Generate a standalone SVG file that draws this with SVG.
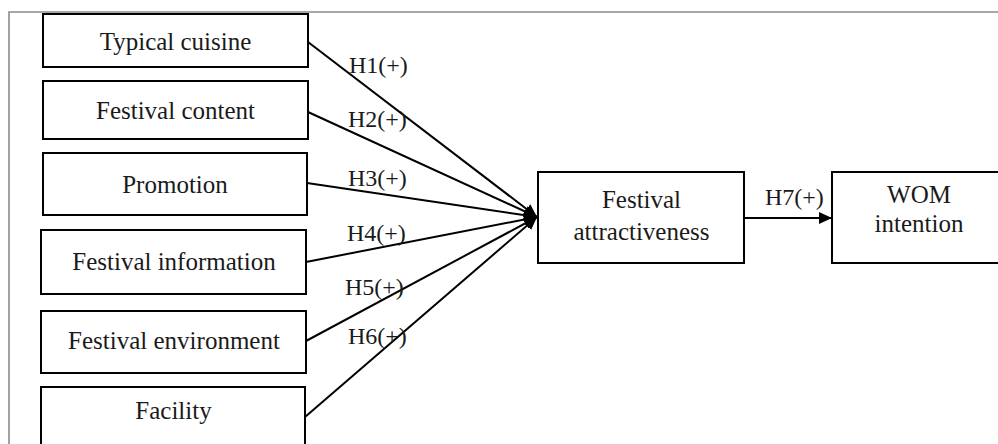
<svg xmlns="http://www.w3.org/2000/svg" width="998" height="444" viewBox="0 0 998 444">
<style>
.box{fill:#fff;stroke:#000;stroke-width:2}
.t{font-family:"Liberation Serif","Times New Roman",serif;font-size:25px;fill:#1a1a1a;text-anchor:middle}
.h{font-family:"Liberation Serif","Times New Roman",serif;font-size:24px;fill:#1a1a1a}
.c{stroke:#000;stroke-width:2;fill:none}
</style>
<defs>
<marker id="ah" markerUnits="userSpaceOnUse" markerWidth="14" markerHeight="12" refX="13" refY="6" orient="auto">
<path d="M0,0 L13,6 L0,12 Z" fill="#000"/>
</marker>
</defs>
<rect width="998" height="444" fill="#fff"/>
<path d="M9,444 V12 H998" fill="none" stroke="#8a8a8a" stroke-width="1.6"/>
<g id="n1"><rect class="box" x="43" y="14" width="265" height="53"/><text class="t" x="175.5" y="50">Typical cuisine</text></g>
<g id="n2"><rect class="box" x="43" y="81" width="265" height="58"/><text class="t" x="175.5" y="119">Festival content</text></g>
<g id="n3"><rect class="box" x="43" y="153" width="264" height="62"/><text class="t" x="175" y="193">Promotion</text></g>
<g id="n4"><rect class="box" x="41" y="230" width="265" height="64"/><text class="t" x="174" y="270">Festival information</text></g>
<g id="n5"><rect class="box" x="41" y="311" width="265" height="62"/><text class="t" x="174" y="349">Festival environment</text></g>
<g id="n6"><rect class="box" x="41" y="387" width="264" height="70"/><text class="t" x="173.5" y="419">Facility</text></g>
<g id="n7"><rect class="box" x="538" y="172" width="206" height="91"/><text class="t" x="641.5" y="208">Festival</text><text class="t" x="641.5" y="240">attractiveness</text></g>
<g id="n8"><rect class="box" x="832" y="172" width="180" height="91"/><text class="t" x="919" y="203">WOM</text><text class="t" x="919" y="232">intention</text></g>
<g id="connectors">
<line class="c" x1="308" y1="42" x2="537" y2="217" marker-end="url(#ah)"/>
<line class="c" x1="308" y1="112" x2="537" y2="217" marker-end="url(#ah)"/>
<line class="c" x1="307" y1="183" x2="537" y2="217" marker-end="url(#ah)"/>
<line class="c" x1="306" y1="262" x2="537" y2="217" marker-end="url(#ah)"/>
<line class="c" x1="306" y1="341" x2="537" y2="217" marker-end="url(#ah)"/>
<line class="c" x1="305" y1="417" x2="537" y2="217" marker-end="url(#ah)"/>
<line class="c" x1="744" y1="218" x2="832" y2="218" marker-end="url(#ah)"/>
<text class="h" x="349" y="73">H1(+)</text>
<text class="h" x="348" y="127">H2(+)</text>
<text class="h" x="348" y="186">H3(+)</text>
<text class="h" x="347" y="241">H4(+)</text>
<text class="h" x="345" y="295">H5(+)</text>
<text class="h" x="348" y="344">H6(+)</text>
<text class="h" x="765" y="205">H7(+)</text>
</g>
</svg>
